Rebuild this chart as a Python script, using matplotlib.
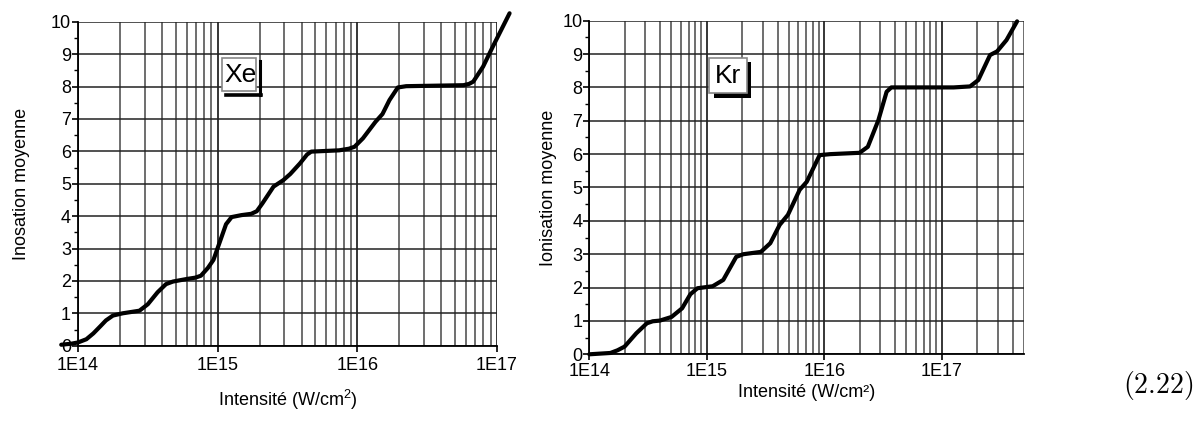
import numpy as np
import matplotlib
matplotlib.use("Agg")
import matplotlib.pyplot as plt
from matplotlib.ticker import FixedLocator, FuncFormatter, MultipleLocator
from matplotlib.patches import Rectangle
from matplotlib.lines import Line2D

plt.rcParams['font.family'] = ['Liberation Sans', 'DejaVu Sans']
plt.rcParams['mathtext.fontset'] = 'cm'

########## data (log10 of intensity, mean ionisation) ##########

xe_log_i = [13.88, 13.95, 14.00, 14.06, 14.11, 14.16, 14.20, 14.25, 14.32, 14.44, 14.50,
            14.57, 14.63, 14.68, 14.78, 14.84, 14.88, 14.93, 14.97, 15.02, 15.06,
            15.10, 15.17, 15.24, 15.28, 15.32, 15.40, 15.47, 15.52, 15.59, 15.64,
            15.67, 15.72, 15.87, 15.94, 15.98, 16.04, 16.13, 16.18, 16.23, 16.29,
            16.35, 16.76, 16.80, 16.83, 16.90, 16.97, 17.09]
xe_charge = [0.03, 0.06, 0.10, 0.20, 0.38, 0.60, 0.78, 0.93, 1.00, 1.08, 1.28,
             1.65, 1.90, 1.98, 2.06, 2.10, 2.16, 2.40, 2.65, 3.26, 3.75,
             3.97, 4.03, 4.07, 4.15, 4.39, 4.91, 5.11, 5.30, 5.63, 5.90,
             5.99, 6.00, 6.03, 6.08, 6.14, 6.40, 6.91, 7.15, 7.58, 7.97,
             8.01, 8.04, 8.08, 8.15, 8.61, 9.23, 10.26]

kr_log_i = [14.00, 14.18, 14.24, 14.30, 14.40, 14.49, 14.54, 14.60, 14.70, 14.79,
            14.86, 14.92, 15.05, 15.14, 15.25, 15.31, 15.46, 15.54, 15.62, 15.69,
            15.79, 15.85, 15.96, 16.05, 16.30, 16.37, 16.46, 16.53, 16.57, 17.10,
            17.24, 17.31, 17.41, 17.47, 17.55, 17.64]
kr_charge = [0.00, 0.04, 0.12, 0.23, 0.63, 0.93, 0.99, 1.01, 1.12, 1.38,
             1.80, 1.98, 2.04, 2.23, 2.92, 3.00, 3.07, 3.33, 3.88, 4.18,
             4.93, 5.17, 5.97, 6.00, 6.04, 6.22, 7.02, 7.87, 8.00, 8.00,
             8.03, 8.22, 8.97, 9.08, 9.42, 9.98]

xe_xlim = (1e14, 1e17)
kr_xlim = (1e14, 5e17)
decades = [1e14, 1e15, 1e16, 1e17]

W, H = 1196, 421
fig = plt.figure(figsize=(W / 100, H / 100), dpi=100)


def px(x0, y0, x1, y1):
    # pixel box (top-left origin) -> figure fraction rect
    return [x0 / W, 1 - y1 / H, (x1 - x0) / W, (y1 - y0) / H]


def setup(ax, xlim, ylabel, xlabel, ypad, xpad, xtickpad):
    ax.set_xscale('log')
    ax.set_xlim(*xlim)
    ax.set_ylim(0, 10)
    ax.xaxis.set_major_locator(FixedLocator(decades))
    ax.xaxis.set_major_formatter(FuncFormatter(lambda v, p: '1E%d' % round(np.log10(v))))
    ax.xaxis.set_minor_locator(FixedLocator(
        [m * d for d in decades for m in range(2, 10) if m * d <= xlim[1] * 1.001]))
    ax.xaxis.set_minor_formatter(FuncFormatter(lambda v, p: ''))
    ax.yaxis.set_major_locator(MultipleLocator(1))
    ax.yaxis.set_minor_locator(MultipleLocator(0.5))
    ax.grid(True, which='major', axis='x', color='black', lw=1.1)
    ax.grid(True, which='minor', axis='x', color='#6e6e6e', lw=1.4)
    ax.grid(True, which='major', axis='y', color='#222222', lw=1.1)
    for s in ['top', 'right']:
        ax.spines[s].set_visible(False)
    for s in ['left', 'bottom']:
        ax.spines[s].set_linewidth(1.3)
    ax.tick_params(axis='both', which='major', direction='out', length=4, width=1.2,
                   labelsize=13, pad=1)
    ax.tick_params(axis='x', which='major', pad=xtickpad)
    ax.tick_params(axis='x', which='minor', length=0)
    ax.tick_params(axis='y', which='minor', direction='out', length=3, width=1.0)
    ax.set_ylabel(ylabel, fontsize=13, labelpad=ypad)
    ax.set_xlabel(xlabel, fontsize=13, labelpad=xpad)
    ax.set_axisbelow(True)


############ Xe ############
ax1 = fig.add_axes(px(78, 21.7, 497, 345.7))
setup(ax1, xe_xlim, 'Inosation moyenne', r'Intensité (W/cm$\mathregular{^2}$)', 15, 10, 4)
ax1.plot(10 ** np.array(xe_log_i), xe_charge, color='black', lw=3.0, clip_on=False,
         solid_capstyle='round', solid_joinstyle='round', zorder=5)

############ Kr ############
ax2 = fig.add_axes(px(589.3, 20.7, 1024, 354.3))
setup(ax2, kr_xlim, 'Ionisation moyenne', 'Intensité (W/cm²)', 4, 3, 2.5)
ax2.plot(10 ** np.array(kr_log_i), kr_charge, color='black', lw=3.0, clip_on=False,
         solid_capstyle='round', solid_joinstyle='round', zorder=5)

############ labels in boxes ############
r = px(221.7, 57.7, 256, 90.7)
fig.add_artist(Rectangle((r[0], r[1]), r[2], r[3], transform=fig.transFigure,
                         facecolor='white', edgecolor='#888888', lw=1.2, zorder=10))
fig.text((221.7 + 256) / 2 / W + 0.001, 1 - 74.5 / H, 'Xe', fontsize=19,
         ha='center', va='center', zorder=11)
fig.add_artist(Line2D([259.5 / W, 259.5 / W], [1 - 61 / H, 1 - 95 / H],
                      transform=fig.transFigure, color='black', lw=2.2, zorder=11))
fig.add_artist(Line2D([226 / W, 261 / W], [1 - 94.7 / H, 1 - 94.7 / H],
                      transform=fig.transFigure, color='black', lw=2.6, zorder=11))

s = px(713.5, 61.7, 751, 97.5)
fig.add_artist(Rectangle((s[0], s[1]), s[2], s[3], transform=fig.transFigure,
                         facecolor='black', edgecolor='black', lw=0, zorder=10))
r = px(709.3, 57.7, 746.7, 93.3)
fig.add_artist(Rectangle((r[0], r[1]), r[2], r[3], transform=fig.transFigure,
                         facecolor='white', edgecolor='#888888', lw=1.2, zorder=11))
fig.text((709.3 + 746.7) / 2 / W, 1 - 76 / H, 'Kr', fontsize=19,
         ha='center', va='center', zorder=12)

fig.text(1193 / W, 1 - 385 / H, r'$(2.22)$', fontsize=20, ha='right', va='center')

plt.savefig('out.png', dpi=100)
